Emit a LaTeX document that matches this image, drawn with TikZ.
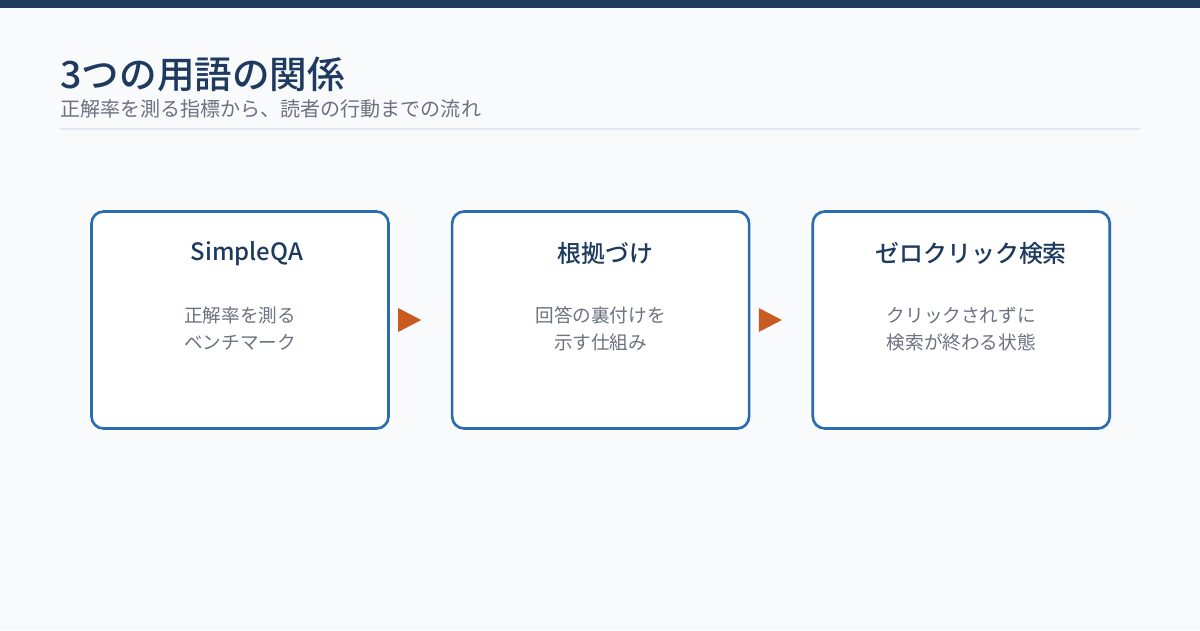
\documentclass[tikz,border=0pt]{standalone}
\usepackage{fontspec}
\setmainfont{Noto Sans CJK JP}
\newfontfamily\medfont{Noto Sans CJK JP Medium}
\usepackage{tikz}
\usetikzlibrary{arrows.meta, positioning, shapes.geometric, calc}

\definecolor{navy}{HTML}{1E3A5F}
\definecolor{boxblue}{HTML}{2B6CB0}
\definecolor{accent}{HTML}{C85A22}
\definecolor{subgray}{HTML}{6B7280}
\definecolor{bgpaper}{HTML}{F8FAFC}
\definecolor{rulegray}{HTML}{E2E8F0}

\tikzset{
  termbox/.style={draw=boxblue, fill=white, rounded corners=0.24cm, line width=1.5pt, minimum width=5.94cm, minimum height=4.34cm},
  termtitle/.style={text=navy, font=\medfont\fontsize{13.6}{16}\selectfont},
  termbody/.style={text=subgray, align=center, font=\fontsize{10.6}{15.3}\selectfont},
  flowtip/.style={isosceles triangle, isosceles triangle apex angle=55, fill=accent, inner sep=0pt, minimum height=0.46cm, minimum width=0.42cm}
}

\begin{document}
\begin{tikzpicture}[node distance=1.22cm]
% page and header
\fill[bgpaper] (0,0) rectangle (24,12.6);
\fill[navy] (0,12.44) rectangle (24,12.6);
\node[anchor=base west, inner sep=0pt, text=navy, font=\medfont\fontsize{21.4}{24}\selectfont] (title) at (1.2,10.84) {3つの用語の関係};
\node[anchor=base west, inner sep=0pt, text=subgray, font=\fontsize{11.4}{14}\selectfont] (subtitle) at (1.2,10.28) {正解率を測る指標から、読者の行動までの流れ};
\draw[rulegray, line width=1.1pt] (1.2,10.02) -- (22.8,10.02);

% three terms
\node[termbox] (qa) at (4.8,6.2) {};
\node[termbox, right=of qa] (ground) {};
\node[termbox, right=of ground] (zero) {};

\node[termtitle] at ($(qa.north)+(0.14,-0.86)$) {SimpleQA};
\node[termbody] at ($(qa.north)+(0,-2.37)$) {正解率を測る\\ベンチマーク};
\node[termtitle] at ($(ground.north)+(0.1,-0.86)$) {根拠づけ};
\node[termbody] at ($(ground.north)+(0,-2.37)$) {回答の裏付けを\\示す仕組み};
\node[termtitle] at ($(zero.north)+(0.2,-0.86)$) {ゼロクリック検索};
\node[termbody] at ($(zero.north)+(0,-2.37)$) {クリックされずに\\検索が終わる状態};

% flow marks
\node[flowtip, anchor=west, right=0.16cm of qa] (tipA) {};
\node[flowtip, anchor=west, right=0.16cm of ground] (tipB) {};
\end{tikzpicture}
\end{document}
